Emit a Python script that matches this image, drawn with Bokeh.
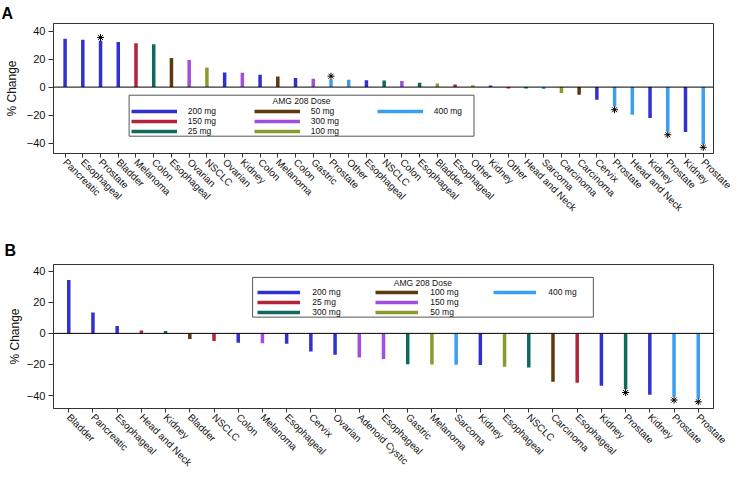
import math
from bokeh.plotting import figure
from bokeh.models import (ColumnDataSource, FixedTicker, Span, Legend, LegendItem,
                          Label, BoxAnnotation, Range1d)
from bokeh.layouts import column
from bokeh.embed import file_html
from bokeh.resources import INLINE

FONT = "Liberation Sans"

# ---------------- Panel A data ----------------
A_labels = ["Pancreatic", "Esophageal", "Prostate", "Bladder", "Melanoma", "Colon",
            "Esophageal", "Ovarian", "NSCLC", "Ovarian", "Kidney", "Colon", "Melanoma",
            "Colon", "Gastric", "Prostate", "Other", "Esophageal", "NSCLC", "Colon",
            "Esophageal", "Bladder", "Esophageal", "Other", "Kidney", "Other",
            "Head and Neck", "Sarcoma", "Carcinoma", "Carcinoma", "Cervix", "Prostate",
            "Head and Neck", "Kidney", "Prostate", "Kidney", "Prostate"]
A_values = [34.6, 33.9, 33.2, 32.3, 31.3, 30.6, 20.8, 19.4, 14.1, 10.5, 10.3, 8.8, 7.6,
            6.5, 6.0, 5.5, 5.3, 4.9, 4.8, 4.3, 3.1, 2.6, 1.9, 1.4, 1.2, -1.0, -1.0, -1.4,
            -4.3, -5.5, -9.1, -13.9, -19.7, -22.1, -31.8, -32.2, -40.8]
A_doses = ["200 mg", "200 mg", "200 mg", "200 mg", "150 mg", "25 mg", "50 mg", "300 mg",
           "100 mg", "200 mg", "300 mg", "200 mg", "50 mg", "200 mg", "300 mg", "400 mg",
           "400 mg", "200 mg", "25 mg", "300 mg", "25 mg", "100 mg", "150 mg", "100 mg",
           "200 mg", "150 mg", "25 mg", "400 mg", "100 mg", "50 mg", "200 mg", "400 mg",
           "400 mg", "200 mg", "400 mg", "200 mg", "400 mg"]
A_starred = [2, 15, 31, 34, 36]
A_legend_order = ["200 mg", "150 mg", "25 mg", "50 mg", "300 mg", "100 mg", "400 mg"]

# ---------------- Panel B data ----------------
B_labels = ["Bladder", "Pancreatic", "Esophageal", "Head and Neck", "Kidney", "Bladder",
            "NSCLC", "Colon", "Melanoma", "Esophageal", "Cervix", "Ovarian",
            "Adenoid Cystic", "Esophageal", "Gastric", "Melanoma", "Sarcoma", "Kidney",
            "Esophageal", "NSCLC", "Carcinoma", "Esophageal", "Kidney", "Prostate",
            "Kidney", "Prostate", "Prostate"]
B_values = [34.3, 13.4, 4.7, 1.9, 1.5, -3.6, -4.9, -6.0, -6.4, -6.6, -11.7, -13.8, -15.5,
            -16.4, -19.8, -20.0, -20.2, -20.4, -21.5, -21.9, -31.1, -31.7, -33.6, -36.0,
            -39.4, -40.8, -41.9]
B_doses = ["200 mg", "200 mg", "200 mg", "25 mg", "300 mg", "100 mg", "25 mg", "200 mg",
           "150 mg", "200 mg", "200 mg", "200 mg", "150 mg", "150 mg", "300 mg", "50 mg",
           "400 mg", "200 mg", "50 mg", "300 mg", "100 mg", "25 mg", "200 mg", "300 mg",
           "200 mg", "400 mg", "400 mg"]
B_starred = [23, 25, 26]
B_legend_order = ["200 mg", "25 mg", "300 mg", "100 mg", "150 mg", "50 mg", "400 mg"]

Y_TICKS = [-40, -20, 0, 20, 40]
LEGEND_TITLE = "AMG 208 Dose"

# palette by legend slot (same slot -> same colour in both panels)
SLOT_COLORS = ["#3131CF", "#B3243A", "#0F6A5E", "#5B3A0E", "#A24EE0", "#8B9A2D", "#3B9EEE"]

W = 740


def build(letter, labels, values, doses, starred, legend_order, g):
    colors = dict(zip(legend_order, SLOT_COLORS))
    fl, ft, fr, fb = g["frame"]
    x0, x1 = g["xr"]
    y0, y1 = g["yr"]
    top = g["fig_top"]
    h = g["h"]
    p = figure(width=W, height=h, x_range=Range1d(x0, x1), y_range=Range1d(y0, y1),
               output_backend="svg", toolbar_location=None,
               min_border_left=fl, min_border_right=W - fr,
               min_border_top=ft - top, min_border_bottom=top + h - fb)
    p.background_fill_color = "white"
    p.border_fill_color = "white"
    p.outline_line_color = "#333333"
    p.outline_line_width = 1
    p.xgrid.visible = False
    p.ygrid.visible = False

    # panel letter as plot title
    p.title.text = letter
    p.title.align = "left"
    p.title.offset = -(fl - 1)
    p.title.standoff = g["title_standoff"]
    p.title.text_font = FONT
    p.title.text_font_size = "16px"
    p.title.text_font_style = "bold"
    p.title.text_color = "black"

    def xd(px):
        return x0 + (px - fl) / (fr - fl) * (x1 - x0)

    def yd(py):
        return y1 - (py - ft) / (fb - ft) * (y1 - y0)

    idx = list(range(len(labels)))
    rends = {}
    for dose in legend_order:
        sel = [i for i in idx if doses[i] == dose]
        src = ColumnDataSource(dict(x=sel, v=[values[i] for i in sel]))
        rends[dose] = p.segment(x0="x", y0=0, x1="x", y1="v", source=src,
                                line_color=colors[dose], line_width=3.5)

    p.add_layout(Span(location=0, dimension="width", line_color="black", line_width=1))

    off = 3.2 * (y1 - y0) / (fb - ft)
    sy = [values[i] + (off if values[i] > 0 else -off) for i in starred]
    p.scatter(starred, sy, marker="asterisk", size=7, line_color="black", line_width=1)

    # axes
    xa = p.xaxis[0]
    xa.ticker = FixedTicker(ticks=idx)
    xa.major_label_overrides = {i: lab for i, lab in enumerate(labels)}
    xa.major_label_orientation = -math.pi / 4
    xa.major_label_text_font = FONT
    xa.major_label_text_font_size = "10px"
    xa.major_label_text_color = "#111111"
    xa.major_label_standoff = 3
    xa.major_tick_in = 0
    xa.major_tick_out = 4
    xa.minor_tick_line_color = None
    xa.axis_line_color = "#333333"
    xa.major_tick_line_color = "#333333"

    ya = p.yaxis[0]
    ya.ticker = FixedTicker(ticks=Y_TICKS)
    ya.major_label_text_font = FONT
    ya.major_label_text_font_size = "11px"
    ya.major_label_text_color = "#111111"
    ya.major_label_standoff = 3
    ya.major_tick_in = 0
    ya.major_tick_out = 5
    ya.minor_tick_line_color = None
    ya.axis_line_color = "#333333"
    ya.major_tick_line_color = "#333333"
    ya.axis_label = "% Change"
    ya.axis_label_text_font = FONT
    ya.axis_label_text_font_size = "12px"
    ya.axis_label_text_font_style = "normal"
    ya.axis_label_text_color = "#111111"
    ya.axis_label_standoff = g["lab_standoff"]

    # legend box
    bl, bt, br, bb = g["box"]
    p.add_layout(BoxAnnotation(left=xd(bl), right=xd(br), top=yd(bt), bottom=yd(bb),
                               fill_color="white", fill_alpha=1.0,
                               line_color="#555555", line_width=1, line_alpha=1.0))
    items = [LegendItem(label=d, renderers=[rends[d]]) for d in legend_order]
    rowh = g["rowh"]
    leg = Legend(items=items, nrows=3,
                 location=(g["leg_x"] - fl, fb - (g["rows_c"] + 1.5 * rowh)),
                 padding=0, margin=0, spacing=0,
                 glyph_width=g["glyph_w"], glyph_height=8, label_height=8,
                 label_standoff=g["standoff"], label_width=g["label_w"],
                 label_text_font=FONT, label_text_font_size="8.5px",
                 label_text_line_height=1.0,
                 label_text_color="#111111",
                 border_line_alpha=0, background_fill_alpha=0)
    p.add_layout(leg)
    tcx, tcy = g["title"]
    p.add_layout(Label(x=xd(tcx), y=yd(tcy), text=LEGEND_TITLE, text_align="center",
                       text_baseline="middle", text_font=FONT, text_font_size="8.5px",
                       text_color="#111111"))
    return p


gA = dict(fig_top=0, h=233, frame=(53, 23, 719, 153), xr=(-0.654, 36.58), yr=(-47.5, 45.5),
          box=(129.3, 94.7, 477.3, 135.7), leg_x=130.7, rows_c=120.8, rowh=10,
          glyph_w=46, standoff=11, label_w=66, title=(303.3, 100.5),
          lab_standoff=5, title_standoff=3)
gB = dict(fig_top=233, h=244, frame=(50, 263, 713, 408), xr=(-0.63, 26.63), yr=(-48.3, 44.3),
          box=(250, 276, 592.3, 316), leg_x=254.3, rows_c=302.3, rowh=10,
          glyph_w=43, standoff=12, label_w=63, title=(421, 282),
          lab_standoff=2, title_standoff=12)

pA = build("A", A_labels, A_values, A_doses, A_starred, A_legend_order, gA)
pB = build("B", B_labels, B_values, B_doses, B_starred, B_legend_order, gB)

layout = column(pA, pB, spacing=0)
open("out.html", "w").write(file_html(layout, INLINE))
